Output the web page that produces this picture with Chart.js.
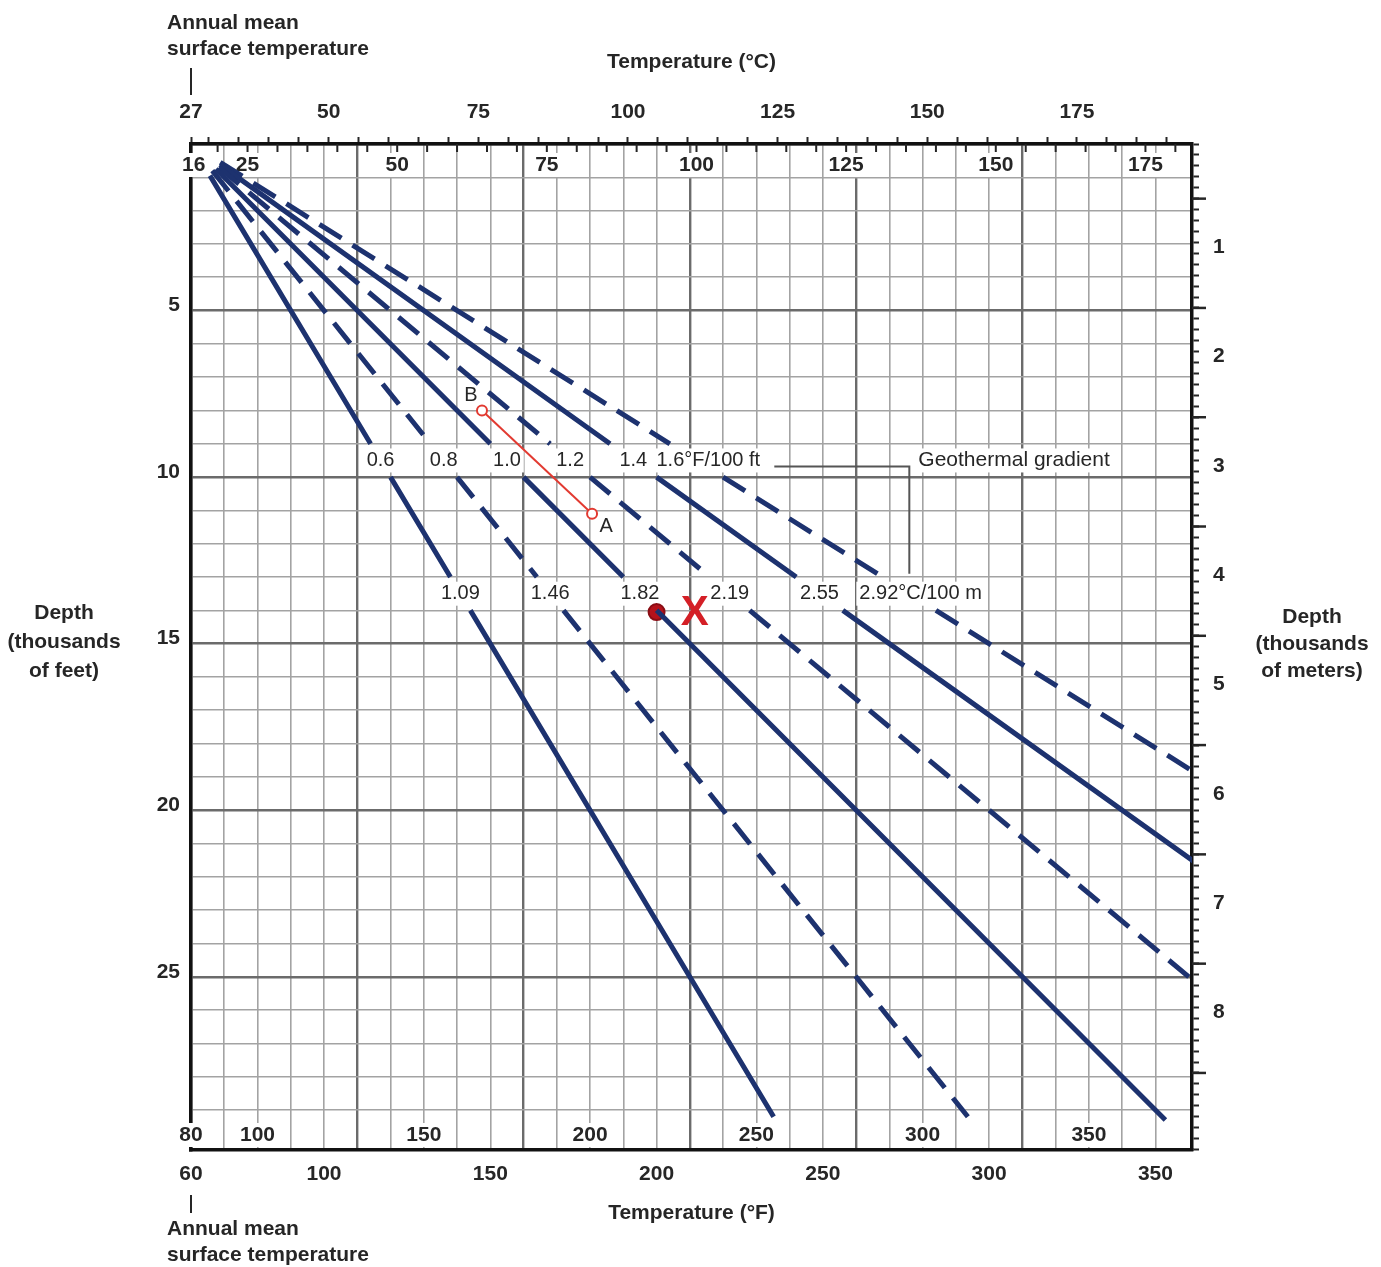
<!DOCTYPE html>
<html lang="en">
<head>
<meta charset="utf-8">
<title>Temperature vs depth - geothermal gradient</title>
<script src="https://cdn.jsdelivr.net/npm/chart.js@4.4.1/dist/chart.umd.min.js"></script>
<style>
  html, body { margin: 0; padding: 0; background: #ffffff; }
  #wrap { position: relative; width: 1381px; height: 1267px; overflow: hidden; }
  #chart { position: absolute; left: 0; top: 0; }
  .note {
    position: absolute;
    font-family: 'Liberation Sans', Arial, sans-serif;
    font-weight: bold;
    font-size: 21px;
    color: #262626;
    white-space: nowrap;
  }
</style>
</head>
<body>
<div id="wrap">
  <canvas id="chart" width="1381" height="1267"></canvas>
  <div class="note" style="left:167px; top:9px; line-height:26px;">Annual mean<br>surface temperature</div>
  <div class="note" style="left:167px; top:1215px; line-height:26px;">Annual mean<br>surface temperature</div>
  <div class="note" style="left:-6px; top:597px; width:140px; text-align:center; line-height:29px;">Depth<br>(thousands<br>of feet)</div>
  <div class="note" style="left:1242px; top:602px; width:140px; text-align:center; line-height:27px;">Depth<br>(thousands<br>of meters)</div>
</div>
<script>
// Values
const SURFACE_F = 60;          // annual mean surface temperature (°F)
const TEMP_MAX_F = 361;        // right edge of the grid (°F)
const DEPTH_MAX_KFT = 30.2;    // bottom edge of the grid (thousands of feet)
const KFT_PER_KM = 3.2808;

const gradientsF = [0.6, 0.8, 1.0, 1.2, 1.4, 1.6];   // °F per 100 ft
const gradientLabelsF = ['0.6', '0.8', '1.0', '1.2', '1.4', '1.6°F/100 ft'];
const gradientLabelsC = ['1.09', '1.46', '1.82', '2.19', '2.55', '2.92°C/100 m'];
const lineDashed = [false, true, false, true, false, true];
const lineStartKft = [0.95, 0.8, 0.75, 0.7, 0.62, 0.55];
const lineEndKft = [29.2, 29.2, 29.3, 25.3, 21.6, 18.9];
const labelBandsKft = [[9, 10], [13, 14]];

const depthTicksFt = [5, 10, 15, 20, 25];
const depthTicksM = [1, 2, 3, 4, 5, 6, 7, 8];
const tempTicksF = [60, 100, 150, 200, 250, 300, 350];
const tempTicksFInner = [80, 100, 150, 200, 250, 300, 350];
const tempTicksC = [27, 50, 75, 100, 125, 150, 175];
const tempTicksCInner = [16, 25, 50, 75, 100, 125, 150, 175];

const pointB = { t: 147.5, d: 8.0 };
const pointA = { t: 180.6, d: 11.1 };
const wellPoint = { t: 200, d: 14.05 };
const markX = { t: 211.5, d: 14.1 };

// Styling
const FONT = "'Liberation Sans', Arial, sans-serif";
const INK = '#262626';
const NAVY = '#1d326f';
const RED = '#e23a31';
const GRID_MINOR = '#a3a3a3';
const GRID_MAJOR = '#6b6b6b';

Chart.defaults.font.family = FONT;
Chart.defaults.font.size = 21;
Chart.defaults.font.weight = 'bold';
Chart.defaults.color = INK;

function steps(from, to, step) {
    const out = [];
    const n = Math.round((to - from) / step);
    for (let k = 0; k <= n; k++) out.push(Math.round((from + k * step) * 1000) / 1000);
    return out;
}

// conversions of the secondary scales onto the °F axis
const C_OUTER_ORIGIN = tempTicksC[0];
const cToF = c => c * 1.8 + 32;
const fInnerToF = f => f - (tempTicksFInner[0] - SURFACE_F);

function gradientLine(i) {
    const perKft = gradientsF[i] * 10;
    const at = d => ({ x: SURFACE_F + perKft * d, y: d });
    const [b1, b2] = labelBandsKft;
    return [
        at(lineStartKft[i]), at(b1[0]), { x: SURFACE_F + perKft * b1[0], y: null },
        at(b1[1]), at(b2[0]), { x: SURFACE_F + perKft * b2[0], y: null },
        at(b2[1]), at(lineEndKft[i])
    ];
}

function boxedText(ctx, text, px, py, align) {
    const w = ctx.measureText(text).width;
    const left = align === 'left' ? px : px - w / 2;
    ctx.fillStyle = '#ffffff';
    ctx.fillRect(left - 3, py - 12, w + 6, 24);
    ctx.fillStyle = INK;
    ctx.textAlign = align || 'center';
    ctx.textBaseline = 'middle';
    ctx.fillText(text, px, py);
}

const overlayPlugin = {
    id: 'overlay',
    beforeDatasetsDraw(chart) {
        const { ctx, chartArea: ca, scales: { x, y } } = chart;
        ctx.save();

        // inner °C ticks hanging under the top border
        ctx.strokeStyle = INK;
        ctx.lineWidth = 2;
        steps(20, 180, 5).forEach(c => {
            const px = x.getPixelForValue(cToF(c));
            ctx.beginPath();
            ctx.moveTo(px, ca.top);
            ctx.lineTo(px, ca.top + 8);
            ctx.stroke();
        });

        // inner tick labels
        ctx.font = 'bold 21px ' + FONT;
        tempTicksCInner.forEach(c => boxedText(ctx, String(c), x.getPixelForValue(cToF(c)), ca.top + 21));
        tempTicksFInner.forEach(f => boxedText(ctx, String(f), x.getPixelForValue(fInnerToF(f)), ca.bottom - 15));

        // gradient labels in the two bands
        ctx.font = '20px ' + FONT;
        labelBandsKft.forEach((band, b) => {
            const mid = (band[0] + band[1]) / 2;
            const py = y.getPixelForValue(mid);
            const labels = b === 0 ? gradientLabelsF : gradientLabelsC;
            labels.forEach((txt, i) => {
                const px = x.getPixelForValue(SURFACE_F + gradientsF[i] * 10 * mid);
                if (i === labels.length - 1) boxedText(ctx, txt, px - (b === 0 ? 40 : 50), py, 'left');
                else boxedText(ctx, txt, px, py);
            });
        });

        // "Geothermal gradient" callout
        const yTop = y.getPixelForValue(9.68);
        const yBot = y.getPixelForValue(12.9);
        const xL = x.getPixelForValue(235.4);
        const xR = x.getPixelForValue(276);
        ctx.strokeStyle = '#555555';
        ctx.lineWidth = 2;
        ctx.beginPath();
        ctx.moveTo(xL, yTop);
        ctx.lineTo(xR, yTop);
        ctx.lineTo(xR, yBot);
        ctx.stroke();
        ctx.font = '21px ' + FONT;
        boxedText(ctx, 'Geothermal gradient', xR + 9, y.getPixelForValue(9.5), 'left');
        ctx.restore();
    },
    afterDraw(chart) {
        const { ctx, chartArea: ca, scales: { x, y, ym } } = chart;
        ctx.save();

        // surface temperature pointers
        const px0 = x.getPixelForValue(SURFACE_F);
        ctx.strokeStyle = INK;
        ctx.lineWidth = 2;
        ctx.beginPath();
        ctx.moveTo(px0, 68); ctx.lineTo(px0, 95);
        ctx.moveTo(px0, 1195); ctx.lineTo(px0, 1213);
        ctx.stroke();

        // long half-km ticks on the meters axis
        ctx.lineWidth = 2.5;
        steps(0.5, 8.5, 1).forEach(km => {
            const py = ym.getPixelForValue(km);
            ctx.beginPath();
            ctx.moveTo(ca.right, py);
            ctx.lineTo(ca.right + 14, py);
            ctx.stroke();
        });

        // point labels
        ctx.fillStyle = INK;
        ctx.font = '20px ' + FONT;
        ctx.textBaseline = 'middle';
        ctx.textAlign = 'center';
        ctx.fillText('B', x.getPixelForValue(pointB.t) - 11, y.getPixelForValue(pointB.d) - 15);
        ctx.fillText('A', x.getPixelForValue(pointA.t) + 14, y.getPixelForValue(pointA.d) + 13);

        ctx.fillStyle = '#d41f26';
        ctx.font = 'bold 42px ' + FONT;
        ctx.fillText('X', x.getPixelForValue(markX.t), y.getPixelForValue(markX.d));
        ctx.restore();
    }
};

const lineDatasets = gradientsF.map((g, i) => ({
    label: gradientLabelsF[i],
    data: gradientLine(i),
    showLine: true,
    borderColor: NAVY,
    borderWidth: 5,
    borderDash: lineDashed[i] ? [26, 13] : [],
    borderCapStyle: 'butt',
    pointRadius: 0,
    spanGaps: false
}));

new Chart(document.getElementById('chart'), {
    type: 'scatter',
    data: {
        datasets: [
            ...lineDatasets,
            {
                label: 'B-A',
                data: [{ x: pointB.t, y: pointB.d }, { x: pointA.t, y: pointA.d }],
                showLine: true,
                borderColor: RED,
                borderWidth: 2,
                pointRadius: 5,
                pointBorderWidth: 2,
                pointBorderColor: RED,
                pointBackgroundColor: '#ffffff'
            },
            {
                label: 'well',
                data: [{ x: wellPoint.t, y: wellPoint.d }],
                pointRadius: 8,
                pointBorderWidth: 2,
                pointBorderColor: '#8a0d14',
                pointBackgroundColor: '#b5121b'
            },
            {
                label: 'well centre',
                data: [{ x: wellPoint.t, y: wellPoint.d }],
                pointRadius: 2,
                pointBorderWidth: 0,
                pointBackgroundColor: '#1a1a1a'
            }
        ]
    },
    options: {
        responsive: false,
        animation: false,
        layout: { padding: 0 },
        plugins: {
            legend: { display: false },
            tooltip: { enabled: false }
        },
        scales: {
            x: {
                type: 'linear',
                position: 'bottom',
                min: SURFACE_F,
                max: TEMP_MAX_F,
                afterBuildTicks: s => { s.ticks = steps(60, 350, 10).map(v => ({ value: v })); },
                afterFit: s => { s.height = 117; },
                grid: {
                    color: c => (c.tick && (c.tick.value - SURFACE_F) % 50 === 0) ? GRID_MAJOR : GRID_MINOR,
                    lineWidth: c => (c.tick && (c.tick.value - SURFACE_F) % 50 === 0) ? 2.4 : 1.6,
                    drawTicks: false
                },
                border: { color: '#111111', width: 3.5 },
                ticks: {
                    autoSkip: false,
                    maxRotation: 0,
                    padding: 12,
                    callback: v => tempTicksF.includes(v) ? String(v) : ''
                },
                title: { display: true, text: 'Temperature (°F)', padding: { top: 0, bottom: 41 } }
            },
            xc: {
                type: 'linear',
                position: 'top',
                min: C_OUTER_ORIGIN,
                max: C_OUTER_ORIGIN + (TEMP_MAX_F - SURFACE_F) / 1.8,
                afterBuildTicks: s => { s.ticks = [C_OUTER_ORIGIN, ...steps(30, 190, 5)].map(v => ({ value: v })); },
                afterFit: s => { s.height = 144; },
                grid: { drawOnChartArea: false, tickLength: 7, tickWidth: 2, tickColor: INK },
                border: { color: '#111111', width: 3.5 },
                ticks: {
                    autoSkip: false,
                    maxRotation: 0,
                    padding: 12,
                    callback: v => tempTicksC.includes(v) ? String(v) : ''
                },
                title: { display: true, text: 'Temperature (°C)', padding: { top: 50, bottom: 0 } }
            },
            y: {
                type: 'linear',
                position: 'left',
                reverse: true,
                min: 0,
                max: DEPTH_MAX_KFT,
                afterBuildTicks: s => { s.ticks = steps(0, 29, 1).map(v => ({ value: v })); },
                afterFit: s => { s.width = 191; },
                grid: {
                    color: c => (c.tick && c.tick.value % 5 === 0) ? GRID_MAJOR : GRID_MINOR,
                    lineWidth: c => (c.tick && c.tick.value % 5 === 0) ? 2.4 : 1.6,
                    drawTicks: false
                },
                border: { color: '#111111', width: 3.5 },
                ticks: {
                    autoSkip: false,
                    padding: 11,
                    labelOffset: -5,
                    callback: v => depthTicksFt.includes(v) ? String(v) : ''
                }
            },
            ym: {
                type: 'linear',
                position: 'right',
                reverse: true,
                min: 0,
                max: DEPTH_MAX_KFT / KFT_PER_KM,
                afterBuildTicks: s => { s.ticks = steps(0, 9.2, 0.1).map(v => ({ value: v })); },
                afterFit: s => { s.width = 189; },
                grid: { drawOnChartArea: false, tickLength: 7, tickWidth: 2, tickColor: INK },
                border: { color: '#111111', width: 3.5 },
                ticks: {
                    autoSkip: false,
                    padding: 14,
                    labelOffset: -6,
                    callback: v => depthTicksM.includes(v) ? String(v) : ''
                }
            }
        }
    },
    plugins: [overlayPlugin]
});
</script>
</body>
</html>
